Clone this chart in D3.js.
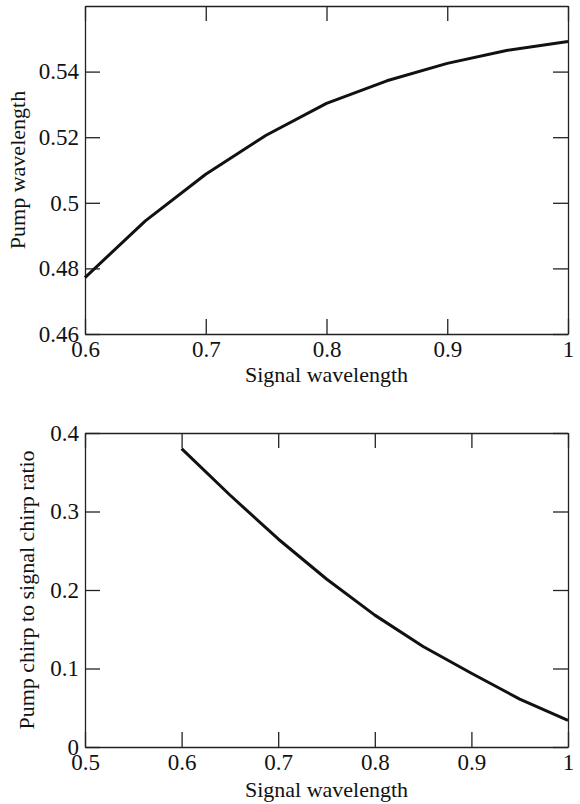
<!DOCTYPE html>
<html lang="en">
<head>
<meta charset="UTF-8">
<title>Pump vs signal wavelength</title>
<script src="https://d3js.org/d3.v7.min.js"></script>
<style>
    body { margin: 0; background: #fff; }
    svg { display: block; }
    .axis path, .axis line { stroke: #222; stroke-width: 1.3px; }
    .axis text, .label { font-family: "Liberation Serif", "Times New Roman", serif; fill: #111; }
    .axis text { font-size: 23px; }
    .label { font-size: 22px; }
    .curve { fill: none; stroke: #111; stroke-width: 3px; stroke-linejoin: round; }
</style>
</head>
<body>
<script>
    // top panel: pump wavelength vs signal wavelength
    const signalTop = [0.6, 0.65, 0.7, 0.75, 0.8, 0.85, 0.9, 0.95, 1.0];
    const pumpWl = [0.4772, 0.4945, 0.5087, 0.5206, 0.5303, 0.5372, 0.5425, 0.5465, 0.5492];
    const topXTicks = [0.6, 0.7, 0.8, 0.9, 1.0];
    const topYTicks = [0.46, 0.48, 0.5, 0.52, 0.54];

    // bottom panel: chirp ratio vs signal wavelength
    const signalBot = [0.6, 0.65, 0.7, 0.75, 0.8, 0.85, 0.9, 0.95, 1.0];
    const chirpRatio = [0.38, 0.321, 0.265, 0.214, 0.168, 0.128, 0.094, 0.061, 0.034];
    const botXTicks = [0.5, 0.6, 0.7, 0.8, 0.9, 1.0];
    const botYTicks = [0, 0.1, 0.2, 0.3, 0.4];

    const W = 580, H = 804;
    const svg = d3.select("body").append("svg").attr("width", W).attr("height", H);

    const fmt = d => String(+d.toFixed(2));

    function panel(opts) {
        const x = d3.scaleLinear().domain(opts.xDomain).range([85, 568]);
        const y = d3.scaleLinear().domain(opts.yDomain).range([opts.bottom, opts.top]);
        const g = svg.append("g");
        const tick = 15;

        g.append("g").attr("class", "axis")
            .attr("transform", `translate(0,${opts.bottom})`)
            .call(d3.axisBottom(x).tickValues(opts.xTicks).tickFormat(fmt)
                .tickSize(-tick).tickSizeOuter(0).tickPadding(7));
        g.append("g").attr("class", "axis")
            .attr("transform", `translate(0,${opts.top})`)
            .call(d3.axisTop(x).tickValues(opts.xTicks).tickFormat("")
                .tickSize(-tick).tickSizeOuter(0));
        g.append("g").attr("class", "axis")
            .attr("transform", "translate(85,0)")
            .call(d3.axisLeft(y).tickValues(opts.yTicks).tickFormat(fmt)
                .tickSize(-tick).tickSizeOuter(0).tickPadding(6));
        g.append("g").attr("class", "axis")
            .attr("transform", "translate(568,0)")
            .call(d3.axisRight(y).tickValues(opts.yTicks).tickFormat("")
                .tickSize(-tick).tickSizeOuter(0));

        const pts = opts.xs.map((v, i) => [v, opts.ys[i]]);
        g.append("path")
            .attr("class", "curve")
            .attr("d", d3.line().x(d => x(d[0])).y(d => y(d[1]))(pts));

        g.append("text").attr("class", "label")
            .attr("x", (85 + 568) / 2).attr("y", opts.xLabelY)
            .attr("text-anchor", "middle")
            .text("Signal wavelength");
        g.append("text").attr("class", "label")
            .attr("transform", `translate(${opts.yLabelX},${(opts.top + opts.bottom) / 2}) rotate(-90)`)
            .attr("text-anchor", "middle")
            .text(opts.yLabel);
    }

    panel({
        xDomain: [0.6, 1.0], yDomain: [0.46, 0.56], top: 6, bottom: 334,
        xTicks: topXTicks, yTicks: topYTicks, xs: signalTop, ys: pumpWl,
        xLabelY: 382, yLabelX: 25, yLabel: "Pump wavelength"
    });

    panel({
        xDomain: [0.5, 1.0], yDomain: [0, 0.4], top: 433, bottom: 747,
        xTicks: botXTicks, yTicks: botYTicks, xs: signalBot, ys: chirpRatio,
        xLabelY: 797, yLabelX: 34, yLabel: "Pump chirp to signal chirp ratio"
    });
</script>
</body>
</html>
